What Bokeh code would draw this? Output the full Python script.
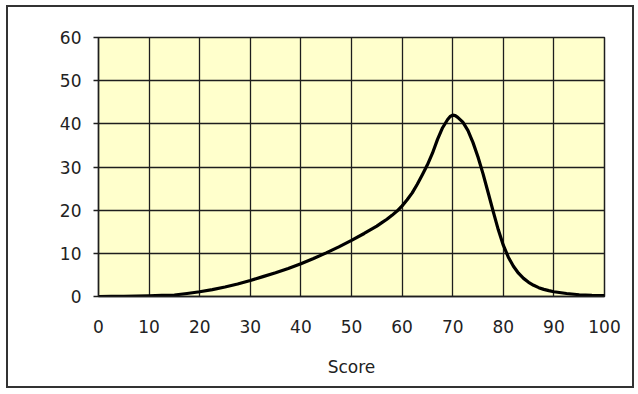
from bokeh.plotting import figure
from bokeh.models import Range1d, FixedTicker, ColumnDataSource, InlineStyleSheet
from bokeh.embed import file_html
from bokeh.resources import INLINE

# Data
score = [0, 2.5, 5, 7.5, 10, 12.5, 15, 17.5, 20, 22.5, 25, 27.5, 30, 32.5, 35,
         37.5, 40, 42.5, 45, 47.5, 50, 52.5, 55, 56, 57, 58, 59, 60, 61, 62,
         63, 64, 65, 66, 67, 68, 69, 69.5, 70, 70.5, 71, 72, 73, 74, 75, 76,
         77, 78, 79, 80, 81, 82, 83, 84, 85, 86, 87, 88, 89, 90, 92.5, 95,
         97.5, 100]
frequency = [0, 0.02, 0.05, 0.1, 0.15, 0.25, 0.35, 0.7, 1.1, 1.6, 2.2, 2.9, 3.7,
             4.6, 5.5, 6.5, 7.6, 8.8, 10.1, 11.5, 13.0, 14.6, 16.3, 17.1, 17.9,
             18.8, 19.8, 21.0, 22.4, 24.0, 26.0, 28.2, 30.5, 33.2, 36.4, 39.1,
             41.0, 41.7, 42.0, 41.9, 41.5, 40.4, 38.5, 35.7, 32.3, 28.4, 24.1,
             19.7, 15.5, 11.9, 9.1, 7.0, 5.4, 4.2, 3.3, 2.6, 2.05, 1.65, 1.35,
             1.1, 0.7, 0.4, 0.25, 0.2]

x_ticks = [0, 10, 20, 30, 40, 50, 60, 70, 80, 90, 100]
y_ticks = [0, 10, 20, 30, 40, 50, 60]
x_title = "Score"

FONT = "DejaVu Sans"
DARK = "#1e1e1e"

p = figure(width=638, height=394, output_backend="svg", toolbar_location=None,
           x_range=Range1d(0, 100), y_range=Range1d(0, 60))
p.min_border_left = 98
p.min_border_right = 34
p.min_border_top = 37
p.min_border_bottom = 98
p.background_fill_color = "#FFFFCC"
p.border_fill_color = "white"
p.outline_line_color = DARK
p.outline_line_width = 1.5

src = ColumnDataSource(data=dict(x=score, y=frequency))
p.line("x", "y", source=src, line_color="black", line_width=3.2,
       line_join="round", line_cap="round")

for g in (p.xgrid[0], p.ygrid[0]):
    g.grid_line_color = DARK
    g.grid_line_width = 1.3
    g.grid_line_alpha = 1.0

p.xaxis.ticker = FixedTicker(ticks=x_ticks)
p.yaxis.ticker = FixedTicker(ticks=y_ticks)
p.xgrid.ticker = FixedTicker(ticks=x_ticks)
p.ygrid.ticker = FixedTicker(ticks=y_ticks)

for ax in (p.xaxis[0], p.yaxis[0]):
    ax.axis_line_color = DARK
    ax.axis_line_width = 1.3
    ax.major_tick_line_color = DARK
    ax.major_tick_line_width = 1.3
    ax.minor_tick_line_color = None
    ax.major_label_text_font = FONT
    ax.major_label_text_font_size = "17px"
    ax.major_label_text_color = "#222222"

p.xaxis.major_tick_out = 0
p.xaxis.major_tick_in = 0
p.xaxis.major_label_standoff = 23
p.yaxis.major_tick_out = 5
p.yaxis.major_tick_in = 0
p.yaxis.major_label_standoff = 12

p.xaxis.axis_label = x_title
p.xaxis.axis_label_text_font = FONT
p.xaxis.axis_label_text_font_size = "17px"
p.xaxis.axis_label_text_font_style = "normal"
p.xaxis.axis_label_text_color = "#222222"
p.xaxis.axis_label_standoff = 21

# outer chart-area border drawn as an overlay that does not affect layout
p.stylesheets = [InlineStyleSheet(css="""
:host { position: relative; }
:host::after {
  content: "";
  position: absolute;
  left: 6px; top: 5px; width: 628px; height: 383px;
  border: 2px solid #333333;
  box-sizing: border-box;
  pointer-events: none;
}
""")]

open("out.html", "w").write(file_html(p, INLINE))
